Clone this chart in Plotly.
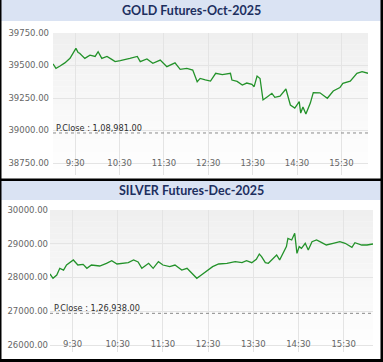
import plotly.graph_objects as go

W, H = 383, 362

# ---------------- data ----------------
gold_title = "GOLD Futures-Oct-2025"
gold_times = ["09:00","09:04","09:09","09:16","09:23","09:31","09:34","09:36","09:43","09:50",
              "09:57","10:01","10:06","10:13","10:20","10:24","10:31","10:37","10:44","10:54",
              "10:58","11:07","11:15","11:25","11:34","11:45","11:52","12:01","12:09","12:15",
              "12:19","12:26","12:33","12:40","12:49","13:00","13:02","13:09","13:16","13:22",
              "13:29","13:32","13:36","13:40","13:44","13:50","13:56","14:00","14:07","14:15",
              "14:21","14:27","14:33","14:35","14:38","14:42","14:48","14:52","15:01","15:11",
              "15:19","15:28","15:32","15:42","15:51","15:58","16:06"]
gold_values = [39512,39478,39494,39520,39555,39632,39600,39594,39555,39580,
               39570,39606,39555,39570,39545,39530,39538,39548,39555,39570,
               39530,39550,39517,39542,39491,39520,39470,39478,39465,39375,
               39401,39390,39380,39440,39430,39440,39388,39378,39350,39365,
               39355,39337,39419,39400,39235,39260,39286,39255,39265,39319,
               39196,39173,39222,39134,39180,39127,39211,39291,39290,39248,
               39304,39330,39363,39380,39440,39453,39440]
gold_pclose = 38981
gold_pclose_label = "P.Close : 1,08,981.00"
gold_yticks = [38750, 39000, 39250, 39500, 39750]

silver_title = "SILVER Futures-Dec-2025"
silver_times = ["09:00","09:04","09:09","09:13","09:18","09:22","09:31","09:37","09:44","09:49",
                "09:55","10:06","10:15","10:22","10:29","10:35","10:44","10:51","10:57","11:02",
                "11:11","11:17","11:24","11:30","11:39","11:46","11:55","12:02","12:08","12:15",
                "12:21","12:30","12:36","12:44","12:55","13:06","13:15","13:21","13:28","13:34",
                "13:38","13:41","13:46","13:50","13:57","14:01","14:05","14:10","14:14","14:16",
                "14:21","14:25","14:28","14:31","14:34","14:39","14:43","14:48","14:54","15:01",
                "15:07","15:16","15:25","15:32","15:41","15:45","15:54","16:01","16:09"]
silver_values = [28104,27976,28074,28272,28220,28370,28519,28370,28390,28272,
                 28370,28340,28420,28498,28400,28420,28440,28519,28460,28272,
                 28420,28272,28468,28370,28321,28370,28222,28272,28124,27976,
                 28074,28222,28321,28400,28420,28468,28440,28498,28440,28539,
                 28696,28620,28440,28420,28568,28667,28520,28716,28914,29161,
                 29111,29309,28716,28914,28865,29013,28815,29062,29111,29035,
                 28963,29013,29062,29013,28893,29030,28963,28963,28993]
silver_pclose = 26938
silver_pclose_label = "P.Close : 1,26,938.00"
silver_yticks = [26000, 27000, 28000, 29000, 30000]

x_ticks = ["09:30", "10:30", "11:30", "12:30", "13:30", "14:30", "15:30"]
x_tick_labels = ["9:30", "10:30", "11:30", "12:30", "13:30", "14:30", "15:30"]

DAY = "2025-10-01 "
def dt(ts):
    return [DAY + t for t in ts]

# ---------------- layout helpers ----------------
def px_x(p):
    return p / W

def px_y(p):
    return 1 - p / H

LINE = "#23922a"
GRID = "#e4e4e4"
TICKC = "#666666"
TITLEC = "#1d2f5f"
BARC = "#dae3f3"

fig = go.Figure()
fig.add_trace(go.Scatter(x=dt(gold_times), y=gold_values, mode="lines",
                         line=dict(color=LINE, width=1.3), xaxis="x", yaxis="y",
                         hoverinfo="skip", showlegend=False))
fig.add_trace(go.Scatter(x=dt(silver_times), y=silver_values, mode="lines",
                         line=dict(color=LINE, width=1.3), xaxis="x2", yaxis="y2",
                         hoverinfo="skip", showlegend=False))

tickfont = dict(family="DejaVu Sans", size=8.5, color=TICKC)

def xaxis(dom, anchor, end, standoff):
    return dict(domain=dom, anchor=anchor, type="date",
                range=[DAY + "09:00", DAY + end],
                tickvals=dt(x_ticks), ticktext=x_tick_labels,
                ticklabelstandoff=standoff, automargin=False,
                showgrid=True, gridcolor=GRID, gridwidth=1,
                showline=False, zeroline=False, ticks="", tickfont=tickfont,
                fixedrange=True)

def yaxis(dom, anchor, rng, ticks, standoff):
    return dict(domain=dom, anchor=anchor, range=rng,
                tickvals=ticks, ticktext=["%.2f" % v for v in ticks],
                showgrid=True, gridcolor=GRID, gridwidth=1, automargin=False,
                showline=False, zeroline=False, ticks="", tickfont=tickfont,
                ticklabelstandoff=standoff, fixedrange=True)

# gold plot area: x 53..368, y 33..175 ; silver: x 50..373, y 210..352
g_dom_x = [px_x(53), px_x(368)]
g_dom_y = [px_y(175), px_y(33)]
s_dom_x = [px_x(50), px_x(373)]
s_dom_y = [px_y(352), px_y(210)]

g_rng = [39750 - 142 / 130 * 1000, 39750]
s_rng = [30000 - 142 / 33.75 * 1000, 30000]

shapes = []
# gradient backgrounds
NB = 24
for (xr, yr) in [("x domain", "y domain"), ("x2 domain", "y2 domain")]:
    for i in range(NB):
        f = i / (NB - 1)
        c = int(239 + (255 - 239) * (1 - f) ** 0.8)
        shapes.append(dict(type="rect", xref=xr, yref=yr, x0=0, x1=1,
                           y0=i / NB, y1=(i + 1) / NB, line=dict(width=0),
                           fillcolor="rgb(%d,%d,%d)" % (c, c, c), layer="below"))
# P.Close dotted lines
shapes.append(dict(type="line", xref="x domain", yref="y", x0=0, x1=1,
                   y0=gold_pclose, y1=gold_pclose,
                   line=dict(color="#8a8a8a", width=1, dash="dot")))
shapes.append(dict(type="line", xref="x2 domain", yref="y2", x0=0, x1=1,
                   y0=silver_pclose, y1=silver_pclose,
                   line=dict(color="#8a8a8a", width=1, dash="dot")))
# title bars
shapes.append(dict(type="rect", xref="paper", yref="paper", x0=0, x1=1,
                   y0=px_y(21), y1=1, line=dict(width=0), fillcolor=BARC, layer="below"))
shapes.append(dict(type="rect", xref="paper", yref="paper", x0=0, x1=1,
                   y0=px_y(200), y1=px_y(181), line=dict(width=0), fillcolor=BARC, layer="below"))
# frame lines
shapes.append(dict(type="rect", xref="paper", yref="paper", x0=px_x(0), x1=px_x(1.5),
                   y0=0, y1=1, line=dict(width=0), fillcolor="#000"))
shapes.append(dict(type="rect", xref="paper", yref="paper", x0=px_x(380.5), x1=1,
                   y0=0, y1=1, line=dict(width=0), fillcolor="#000"))
shapes.append(dict(type="rect", xref="paper", yref="paper", x0=0, x1=1,
                   y0=px_y(181), y1=px_y(178.5), line=dict(width=0), fillcolor="#000"))
shapes.append(dict(type="rect", xref="paper", yref="paper", x0=0, x1=1,
                   y0=0, y1=px_y(359), line=dict(width=0), fillcolor="#000"))

annotations = [
    dict(text="<b>%s</b>" % gold_title, xref="paper", yref="paper", x=0.5, y=px_y(11),
         showarrow=False, font=dict(family="Lato", size=12.5, color=TITLEC),
         xanchor="center", yanchor="middle"),
    dict(text="<b>%s</b>" % silver_title, xref="paper", yref="paper", x=0.5, y=px_y(190.5),
         showarrow=False, font=dict(family="Lato", size=12.5, color=TITLEC),
         xanchor="center", yanchor="middle"),
    dict(text=gold_pclose_label, xref="x domain", yref="y", x=0.003, y=gold_pclose,
         showarrow=False, xanchor="left", yanchor="bottom", yshift=-2,
         font=dict(family="DejaVu Sans", size=8.2, color="#2e2e2e")),
    dict(text=silver_pclose_label, xref="x2 domain", yref="y2", x=0.006, y=silver_pclose,
         showarrow=False, xanchor="left", yanchor="bottom", yshift=-2,
         font=dict(family="DejaVu Sans", size=8.2, color="#2e2e2e")),
]

fig.update_layout(
    width=W, height=H, margin=dict(l=0, r=0, t=0, b=0),
    paper_bgcolor="white", plot_bgcolor="rgba(0,0,0,0)",
    xaxis=xaxis(g_dom_x, "y", "16:06", -19),
    yaxis=yaxis(g_dom_y, "x", g_rng, gold_yticks, 3),
    xaxis2=xaxis(s_dom_x, "y2", "16:09", -15),
    yaxis2=yaxis(s_dom_y, "x2", s_rng, silver_yticks, 1),
    shapes=shapes, annotations=annotations, showlegend=False,
)

fig.write_html("out.html", config={"displayModeBar": False},
               post_script="document.body.style.margin='0';document.body.style.overflow='hidden';")
